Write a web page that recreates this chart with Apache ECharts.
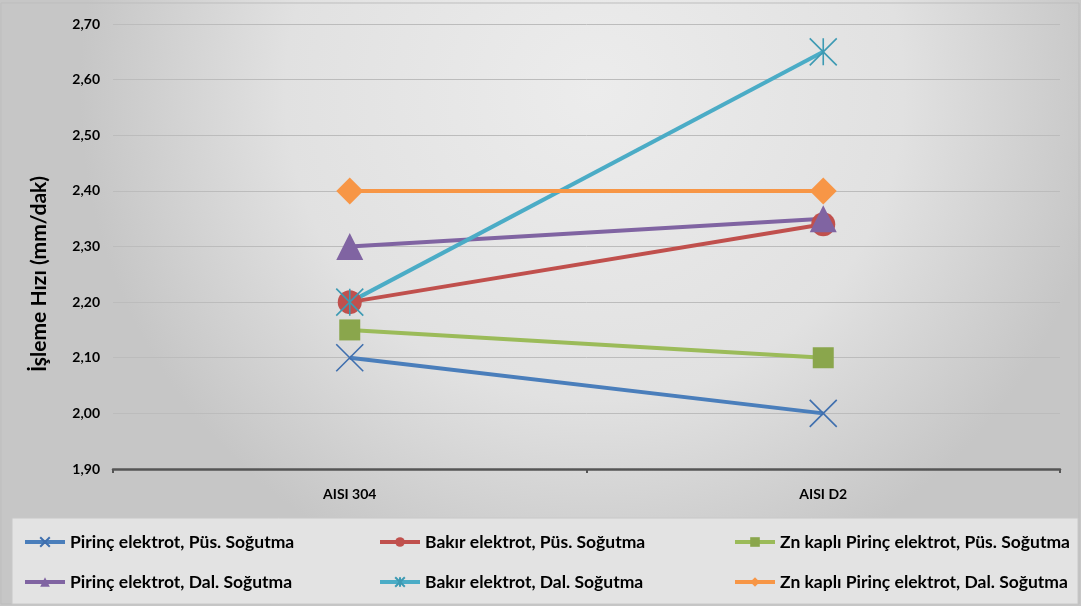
<!DOCTYPE html>
<html><head><meta charset="utf-8">
<script src="https://cdn.jsdelivr.net/npm/echarts@6/dist/echarts.min.js"></script>
<style>html,body{margin:0;padding:0;}#c{width:1081px;height:606px;}</style>
</head><body><div id="c"></div>
<script>
const categories = ['AISI 304', 'AISI D2'];
const yTicks = { min: 1.9, max: 2.7, interval: 0.1 };
const yTitle = 'İşleme Hızı (mm/dak)';
const seriesNames = [
  'Pirinç elektrot, Püs. Soğutma',
  'Bakır elektrot, Püs. Soğutma',
  'Zn kaplı Pirinç elektrot, Püs. Soğutma',
  'Pirinç elektrot, Dal. Soğutma',
  'Bakır elektrot, Dal. Soğutma',
  'Zn kaplı Pirinç elektrot, Dal. Soğutma'
];
const pirincPus = [2.10, 2.00];
const bakirPus = [2.20, 2.34];
const znPus = [2.15, 2.10];
const pirincDal = [2.30, 2.35];
const bakirDal = [2.20, 2.65];
const znDal = [2.40, 2.40];

const FONT = 'Lato';
const crossPath = 'path://M0,0L20,20M20,0L0,20';
const starPath = 'path://M0,0L20,20M20,0L0,20M10,0L10,20';

function mk(name, data, lineColor, markColor, symbol, size, strokeOnly) {
  return {
    name, type: 'line', data, symbol, symbolSize: size,
    lineStyle: { color: lineColor, width: 4 },
    itemStyle: strokeOnly ? { color: 'rgba(0,0,0,0)', borderColor: markColor, borderWidth: 1.6 } : { color: markColor },
    emphasis: { disabled: true },
    z: 2
  };
}

const chart = echarts.init(document.getElementById('c'));
const legendText = { fontFamily: FONT, fontWeight: 'bold', fontSize: 17.5, color: '#000' };
function leg(names, left) {
  return { data: names, orient: 'vertical', left, top: 533, padding: 0, itemWidth: 40, itemHeight: 12, itemGap: 22,
    textStyle: legendText, selectedMode: false, lineStyle: { width: 4 } };
}
chart.setOption({
  backgroundColor: { type: 'radial', x: 0.55, y: 0.15, r: 0.85, colorStops: [{ offset: 0, color: '#ececec' }, { offset: 0.6, color: '#e1e1e1' }, { offset: 1, color: '#c6c6c6' }] },
  animation: false,
  graphic: [
    { type: 'rect', shape: { x: 1, y: 3, width: 1078, height: 601 }, style: { fill: 'none', stroke: '#bdbdbd', lineWidth: 1 }, z: -1 },
    { type: 'rect', shape: { x: 12, y: 518, width: 1066, height: 86 }, style: { fill: '#e3e3e3', stroke: '#c8c8c8', lineWidth: 1 }, z: -1 },
    { type: 'text', x: 39, y: 274, rotation: Math.PI / 2,
      style: { text: yTitle, fontFamily: FONT, fontWeight: 'bold', fontSize: 21, fill: '#000', textAlign: 'center', textVerticalAlign: 'middle' } }
  ],
  grid: { left: 113, right: 21, top: 24, bottom: 137 },
  legend: [
    leg([seriesNames[0], seriesNames[3]], 23),
    leg([seriesNames[1], seriesNames[4]], 378),
    leg([seriesNames[2], seriesNames[5]], 733)
  ],
  xAxis: {
    type: 'category', data: categories, boundaryGap: true,
    axisLine: { lineStyle: { color: '#555', width: 2.5 } },
    axisTick: { show: true, length: 4, lineStyle: { color: '#555', width: 2 } },
    axisLabel: { fontFamily: FONT, fontWeight: 'bold', fontSize: 14, color: '#000', margin: 18 }
  },
  yAxis: {
    type: 'value', min: yTicks.min, max: yTicks.max, interval: yTicks.interval,
    axisLine: { show: false }, axisTick: { show: false },
    axisLabel: { fontFamily: FONT, fontWeight: 'bold', fontSize: 14, color: '#000', margin: 13, formatter: v => v.toFixed(2).replace('.', ',') },
    splitLine: { lineStyle: { color: '#bcbcbc', width: 1 } }
  },
  series: [
    mk(seriesNames[0], pirincPus, '#4a7ebb', '#3f6fae', crossPath, 27, true),
    mk(seriesNames[1], bakirPus, '#c0504d', '#c0504d', 'circle', 24, false),
    mk(seriesNames[2], znPus, '#9bbb59', '#8aa64c', 'rect', 21, false),
    mk(seriesNames[3], pirincDal, '#8064a2', '#8064a2', 'triangle', 27, false),
    mk(seriesNames[4], bakirDal, '#4bacc6', '#3d9ab3', starPath, 27, true),
    mk(seriesNames[5], znDal, '#f79646', '#f79646', 'diamond', 27, false)
  ]
});
</script></body></html>
